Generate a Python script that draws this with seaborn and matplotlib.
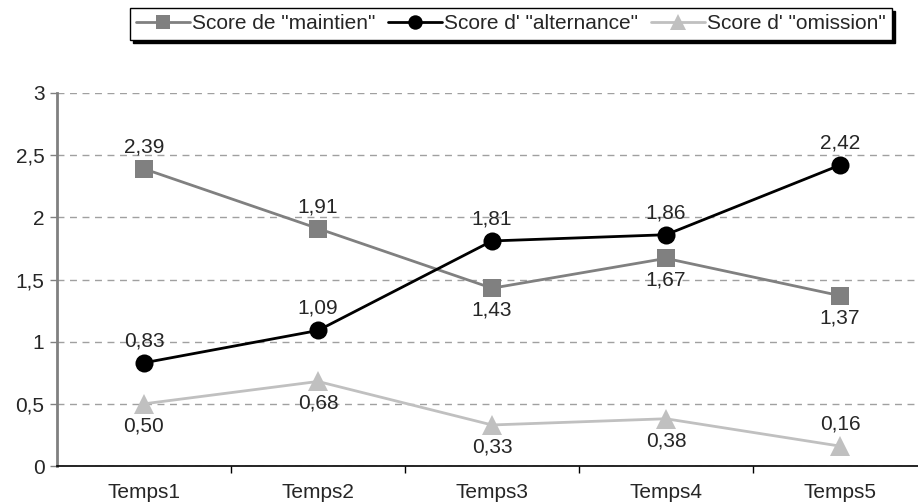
import pandas as pd
import matplotlib
matplotlib.use("Agg")
import matplotlib.pyplot as plt
import seaborn as sns

# data
temps = ["Temps1", "Temps2", "Temps3", "Temps4", "Temps5"]
maintien = [2.39, 1.91, 1.43, 1.67, 1.37]
alternance = [0.83, 1.09, 1.81, 1.86, 2.42]
omission = [0.50, 0.68, 0.33, 0.38, 0.16]

series_names = ['Score de "maintien"', 'Score d\' "alternance"', 'Score d\' "omission"']
# where each value label sits: +1 above the point, -1 below
label_side_maintien = [1, 1, -1, -1, -1]
label_side_alternance = [1, 1, 1, 1, 1]
label_side_omission = [-1, -1, -1, -1, 1]

sns.set_style("white")
plt.rcParams["font.family"] = ["Liberation Sans", "DejaVu Sans"]
plt.rcParams["font.size"] = 15

fig = plt.figure(figsize=(9.18, 5.03), dpi=100)
ax = fig.add_axes([57 / 918, 37 / 503, 1 - 57 / 918, (466 - 93) / 503])

styles = [
    (maintien, label_side_maintien, "#808080", "s", 13),
    (alternance, label_side_alternance, "black", "o", 13),
    (omission, label_side_omission, "#C0C0C0", "^", 14),
]

for name, (vals, sides, color, marker, ms) in zip(series_names, styles):
    df = pd.DataFrame({"temps": temps, "score": vals})
    sns.lineplot(data=df, x="temps", y="score", ax=ax, color=color, marker=marker,
                 markersize=ms, markeredgewidth=0, linewidth=2, label=name)
    for i, (v, s) in enumerate(zip(vals, sides)):
        ax.annotate(f"{v:.2f}".replace(".", ","), (i, v),
                    xytext=(0, 9 * s), textcoords="offset points",
                    ha="center", va="bottom" if s > 0 else "top", fontsize=15)

ax.set_ylim(0, 3)
ax.set_xlim(-0.5, 4.5 - 9 / 174)
ax.set_yticks([0, 0.5, 1, 1.5, 2, 2.5, 3])
ax.set_yticklabels(["0", "0,5", "1", "1,5", "2", "2,5", "3"])
ax.set_xticks(range(len(temps)))
ax.set_xticklabels(temps)
ax.set_xticks([0.5, 1.5, 2.5, 3.5], minor=True)
ax.tick_params(axis="x", which="major", length=0, pad=12, bottom=True)
ax.tick_params(axis="x", which="minor", length=5, width=1, color="black",
               direction="out", bottom=True)
ax.tick_params(axis="y", length=5, width=1, color="#808080", direction="out", pad=4, left=True)
ax.set_xlabel("")
ax.set_ylabel("")

ax.yaxis.grid(True, linestyle=(0, (5, 4)), color="#A0A0A0", linewidth=1)
ax.set_axisbelow(True)
for side in ["top", "right"]:
    ax.spines[side].set_visible(False)
ax.spines["left"].set_color("#808080")
ax.spines["left"].set_linewidth(2)
ax.spines["bottom"].set_color("black")
ax.spines["bottom"].set_linewidth(1.2)

handles, labels = ax.get_legend_handles_labels()
ax.get_legend().remove()
leg = fig.legend(handles, labels, loc="center", bbox_to_anchor=(511 / 918, 1 - 24 / 503),
                 ncol=3, frameon=True, fancybox=False, shadow={"color": "black", "alpha": 1},
                 fontsize=15, handlelength=2.6, handletextpad=0.1, columnspacing=0.6,
                 borderpad=0.3, borderaxespad=0, markerscale=0.8)
leg.get_frame().set_edgecolor("black")
leg.get_frame().set_linewidth(1)

fig.savefig("out.png", dpi=100)
plt.close(fig)
